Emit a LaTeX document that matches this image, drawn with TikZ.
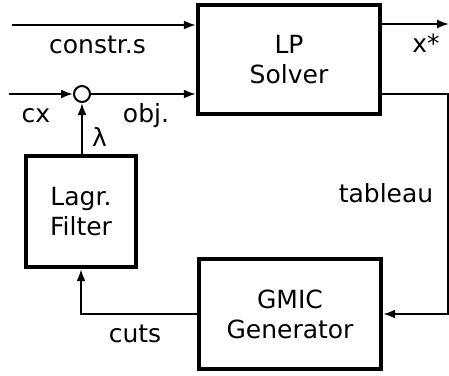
\documentclass[tikz,border=0pt]{standalone}
\usepackage{fontspec}
\setmainfont{DejaVu Sans}
\usepackage{tikz}
\usetikzlibrary{arrows.meta,positioning,calc}

\begin{document}
\begin{tikzpicture}[x=0.5pt,y=-0.5pt,
    every node/.style={font=\fontsize{12.5}{15}\selectfont},
    block/.style={draw,line width=2.2pt,align=center,inner sep=0pt},
    flow/.style={line width=1pt,-{Latex[length=6pt,width=4.5pt]}},
    lbl/.style={inner sep=0pt,anchor=base}]
          \useasboundingbox (0,0) rectangle (449,375);

          \node[block,minimum width=91pt,minimum height=54.5pt] (lp) at (289,59.5) {LP\\Solver};
          \node[block,minimum width=91pt,minimum height=55pt] (gmic) at (290,314) {GMIC\\Generator};
          \node[block,minimum width=55pt,minimum height=55.5pt] (lagr) at (81,211.5) {Lagr.\\Filter};
          \node[circle,draw,line width=1pt,minimum size=8pt,inner sep=0pt] (sum) at (82,94) {};

          \coordinate (cin) at (12,25);
          \coordinate (cxin) at (9,94);
          \coordinate (xout) at (449,24);
          \coordinate (tab) at (447.5,94);

          \draw[flow] (cin) -- (cin -| lp.west);
          \draw[flow] (cxin) -- (sum.west);
          \draw[flow] (sum.east) -- (sum -| lp.west);
          \draw[flow] (lagr.north -| sum) -- (sum.south);
          \draw[flow] (lp.east |- xout) -- (xout);
          \draw[flow] (lp.east |- tab) -- (tab) |- (gmic.east);
          \draw[flow] (gmic.west) -| (lagr.south);

          \node[lbl] (constr) at (97.5,53) {constr.s};
          \node[lbl] (cx) at (36,122) {cx};
          \node[lbl] (obj) at (146,122) {obj.};
          \node[lbl] (lambda) at (99.5,146) {λ};
          \node[lbl] (xstar) at (426,52) {x*};
          \node[lbl] (tableau) at (386,202) {tableau};
          \node[lbl] (cuts) at (135,342) {cuts};
        \end{tikzpicture}
\end{document}
